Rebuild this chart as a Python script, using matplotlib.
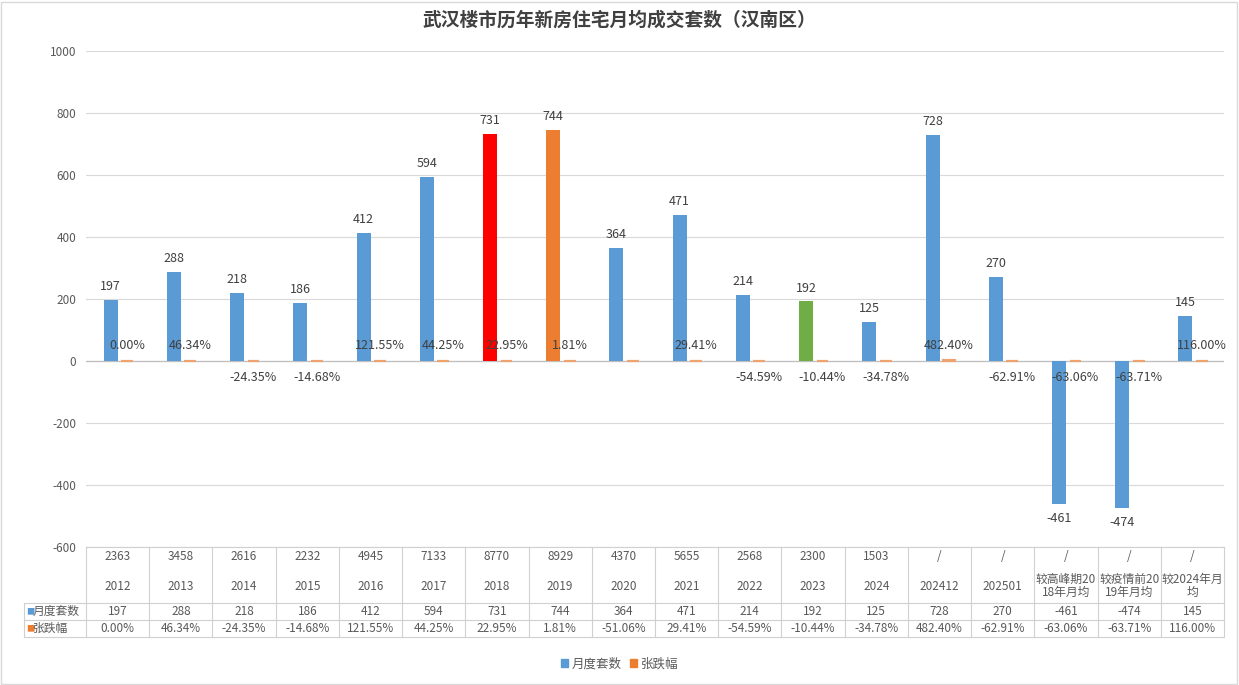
import matplotlib
matplotlib.use('Agg')
import matplotlib.pyplot as plt
import matplotlib.transforms as mtransforms
from matplotlib.patches import Patch, Rectangle
from matplotlib.lines import Line2D
import numpy as np

plt.rcParams['font.family'] = ['Noto Sans CJK SC', 'DejaVu Sans']
plt.rcParams['axes.unicode_minus'] = False

############################################################################################################
title = '武汉楼市历年新房住宅月均成交套数（汉南区）'
totals = ['2363', '3458', '2616', '2232', '4945', '7133', '8770', '8929', '4370',
          '5655', '2568', '2300', '1503', '/', '/', '/', '/', '/']
periods = ['2012', '2013', '2014', '2015', '2016', '2017', '2018', '2019', '2020',
           '2021', '2022', '2023', '2024', '202412', '202501',
           '较高峰期20\n18年月均', '较疫情前20\n19年月均', '较2024年月\n均']
monthly = [197, 288, 218, 186, 412, 594, 731, 744, 364, 471, 214, 192, 125, 728, 270, -461, -474, 145]
change = [0.00, 46.34, -24.35, -14.68, 121.55, 44.25, 22.95, 1.81, -51.06,
          29.41, -54.59, -10.44, -34.78, 482.40, -62.91, -63.06, -63.71, 116.00]
series_names = ['月度套数', '张跌幅']

blue, orange, red, green = '#5B9BD5', '#ED7D31', '#FF0000', '#70AD47'
bar_colors = [blue] * len(monthly)
bar_colors[6] = red
bar_colors[7] = orange
bar_colors[11] = green
txt = '#404040'
grid = '#D9D9D9'

#----------------------------------------------------------------------------------------------
W, H = 1239, 685
fig = plt.figure(figsize=(W / 100, H / 100), dpi=100)
x0, x1, ytop, ybot = 86, 1224, 51, 547
ax = fig.add_axes([x0 / W, 1 - ybot / H, (x1 - x0) / W, (ybot - ytop) / H])

n = len(monthly)
x = np.arange(n)
bw = 0.22
xb = x - bw / 2
xo = x + bw / 2 + 0.04

ax.bar(xb, monthly, width=bw, color=bar_colors, zorder=3)
pct = np.array(change) / 100.
ax.bar(xo, pct, width=bw * 0.85, color=orange, edgecolor='#EFA46F', linewidth=1.6, zorder=3)

ax.set_xlim(-0.5, n - 0.5)
ax.set_ylim(-600, 1000)
ax.set_yticks(np.arange(-600, 1001, 200))
ax.tick_params(axis='y', length=0, labelsize=8.5, labelcolor='#595959', pad=7)
ax.set_xticks([])
for s in ax.spines.values():
    s.set_visible(False)
ax.grid(axis='y', color=grid, linewidth=0.8, zorder=0)
ax.axhline(0, color='#BFBFBF', linewidth=0.9, zorder=2)

# value labels
for i, v in enumerate(monthly):
    if v >= 0:
        ax.annotate(str(v), (xb[i], v), xytext=(0, 5), textcoords='offset points',
                    ha='center', va='bottom', fontsize=9, color=txt)
    else:
        ax.annotate(str(v), (xb[i], v), xytext=(0, -6), textcoords='offset points',
                    ha='center', va='top', fontsize=9, color=txt)
for i, c in enumerate(change):
    if i == 8:
        continue   # label hidden in the original
    lab = '%.2f%%' % c
    if c >= 0:
        ax.annotate(lab, (xo[i], 0), xytext=(0, 11), textcoords='offset points',
                    ha='center', va='center', fontsize=9, color=txt, zorder=4)
    else:
        ax.annotate(lab, (xo[i], 0), xytext=(0, -12), textcoords='offset points',
                    ha='center', va='center', fontsize=9, color=txt, zorder=4)

#----------------------------------------------------------------------------------------------
# data table under the axes
trans = mtransforms.blended_transform_factory(ax.transData, ax.transAxes)
axh = ybot - ytop
def fy(py):
    return -(py - ybot) / axh

rows = [547, 603, 620, 637]
left = (24 - x0) / ((x1 - x0) / n) - 0.5
lc = '#D0D0D0'
for r in rows[1:]:
    ax.add_line(Line2D([left, n - 0.5], [fy(r), fy(r)], transform=trans, color=lc, lw=0.8, clip_on=False))
ax.add_line(Line2D([-0.5, n - 0.5], [fy(547), fy(547)], transform=trans, color=lc, lw=0.8, clip_on=False))
ax.add_line(Line2D([left, left], [fy(603), fy(637)], transform=trans, color=lc, lw=0.8, clip_on=False))
for k in range(n + 1):
    ax.add_line(Line2D([k - 0.5, k - 0.5], [fy(547), fy(637)], transform=trans, color=lc, lw=0.8, clip_on=False))

for i in range(n):
    ax.text(i, fy(556), totals[i], transform=trans, ha='center', va='center', fontsize=8.5, color='#595959')
    ax.text(i, fy(586), periods[i], transform=trans, ha='center', va='center', fontsize=8.5,
            color='#595959', linespacing=1.0)
    ax.text(i, fy(611.5), str(monthly[i]), transform=trans, ha='center', va='center', fontsize=8.5, color='#595959')
    ax.text(i, fy(628.5), '%.2f%%' % change[i], transform=trans, ha='center', va='center', fontsize=8.5, color='#595959')

ax.text(left + 0.04, fy(611.5), '■', transform=trans, ha='left', va='center', fontsize=6, color=blue)
ax.text(left + 0.14, fy(611.5), series_names[0], transform=trans, ha='left', va='center', fontsize=8.5, color='#595959')
ax.text(left + 0.04, fy(628.5), '■', transform=trans, ha='left', va='center', fontsize=6, color=orange)
ax.text(left + 0.14, fy(628.5), series_names[1], transform=trans, ha='left', va='center', fontsize=8.5, color='#595959')

#----------------------------------------------------------------------------------------------
fig.text(0.5, 1 - 20 / H, title, ha='center', va='center', fontsize=13.5, fontweight='bold', color=txt)

handles = [Patch(color=blue), Patch(color=orange)]
fig.legend(handles, series_names, loc='center', bbox_to_anchor=(0.5, 1 - 664 / H), ncol=2, frameon=False,
           fontsize=9, handlelength=0.6, handleheight=0.6, handletextpad=0.3, columnspacing=0.6,
           labelcolor='#595959')

fig.patches.append(Rectangle((1 / W, 1 / H), 1 - 3 / W, 1 - 3 / H, transform=fig.transFigure,
                             fill=False, edgecolor='#D9D9D9', linewidth=1))

fig.savefig('out.png', dpi=100)
